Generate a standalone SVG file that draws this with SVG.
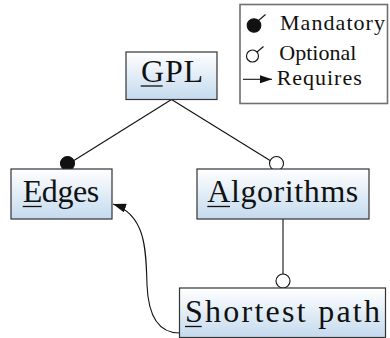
<svg xmlns="http://www.w3.org/2000/svg" width="390" height="338" viewBox="0 0 390 338">
  <defs>
    <linearGradient id="nodeFill" x1="0" y1="0" x2="0" y2="1">
      <stop offset="0" stop-color="#ffffff"/>
      <stop offset="1" stop-color="#c4daee"/>
    </linearGradient>
    <marker id="arrow" viewBox="0 0 13 9" refX="13" refY="4.5" markerWidth="13" markerHeight="9" markerUnits="userSpaceOnUse" orient="auto">
      <path d="M0,0 L13,4.5 L0,9 Z" fill="#111"/>
    </marker>
    <marker id="arrowSmall" viewBox="0 0 12 8" refX="12" refY="4" markerWidth="12" markerHeight="8" markerUnits="userSpaceOnUse" orient="auto">
      <path d="M0,0 L12,4 L0,8 Z" fill="#111"/>
    </marker>
  </defs>
  <style>
    .box { fill: url(#nodeFill); stroke: #333; stroke-width: 1.2; }
    .lbl { font-family: "Liberation Serif", "Times New Roman", serif; font-size: 32px; fill: #111; }
    .leg { font-family: "Liberation Serif", "Times New Roman", serif; font-size: 22px; fill: #111; }
    .ul { stroke: #111; stroke-width: 1.3; }
    .conn { stroke: #111; stroke-width: 1.1; fill: none; }
    .mand { fill: #111; stroke: #111; stroke-width: 1.1; }
    .opt { fill: #fff; stroke: #111; stroke-width: 1.1; }
    .legbox { fill: #fff; stroke: #707070; stroke-width: 1.6; }
  </style>

  <g id="connectors">
    <line class="conn" x1="171.5" y1="99.5" x2="67.5" y2="164.5"/>
    <line class="conn" x1="171.5" y1="99.5" x2="276.5" y2="164.5"/>
    <line class="conn" x1="283" y1="219" x2="283" y2="275"/>
    <path class="conn" d="M179.5,333 C155,333 148,310 147,285 C146,250 146,215 113,204" marker-end="url(#arrow)"/>
    <circle class="mand" cx="67.5" cy="163.5" r="7"/>
    <circle class="opt" cx="276.5" cy="163.5" r="7"/>
    <circle class="opt" cx="283" cy="281" r="7"/>
  </g>

  <g id="gpl">
    <rect class="box" x="126" y="52" width="91" height="47.5"/>
    <text class="lbl" x="141" y="81.5" textLength="62" lengthAdjust="spacing">GPL</text>
    <line class="ul" x1="140.7" y1="86" x2="162.7" y2="86"/>
  </g>

  <g id="edges">
    <rect class="box" x="11" y="169" width="101" height="50"/>
    <text class="lbl" x="22.7" y="201.7" textLength="76.6" lengthAdjust="spacing">Edges</text>
    <line class="ul" x1="22.7" y1="206.5" x2="41.7" y2="206.5"/>
  </g>

  <g id="algorithms">
    <rect class="box" x="197" y="169" width="172" height="50"/>
    <text class="lbl" x="207.3" y="201.7" textLength="151" lengthAdjust="spacing">Algorithms</text>
    <line class="ul" x1="207.3" y1="206.5" x2="230" y2="206.5"/>
  </g>

  <g id="shortest-path">
    <rect class="box" x="179.5" y="288" width="206" height="49.5"/>
    <text class="lbl" x="185" y="321.5" textLength="195" lengthAdjust="spacing">Shortest path</text>
    <line class="ul" x1="185" y1="326.5" x2="201.7" y2="326.5"/>
  </g>

  <g id="legend">
    <rect class="legbox" x="240" y="4.5" width="147.5" height="99"/>
    <circle class="mand" cx="254" cy="25.5" r="6.8"/>
    <line class="conn" x1="258.5" y1="20.5" x2="265.5" y2="14.5"/>
    <text class="leg" x="280" y="29.8" textLength="105" lengthAdjust="spacing">Mandatory</text>
    <circle class="opt" cx="252.5" cy="56" r="6"/>
    <line class="conn" x1="257" y1="52" x2="263.5" y2="46.5"/>
    <text class="leg" x="279.3" y="60" textLength="77" lengthAdjust="spacing">Optional</text>
    <line class="conn" x1="243" y1="79.3" x2="272" y2="79.3" marker-end="url(#arrowSmall)"/>
    <text class="leg" x="276.7" y="85" textLength="85" lengthAdjust="spacing">Requires</text>
  </g>
</svg>
